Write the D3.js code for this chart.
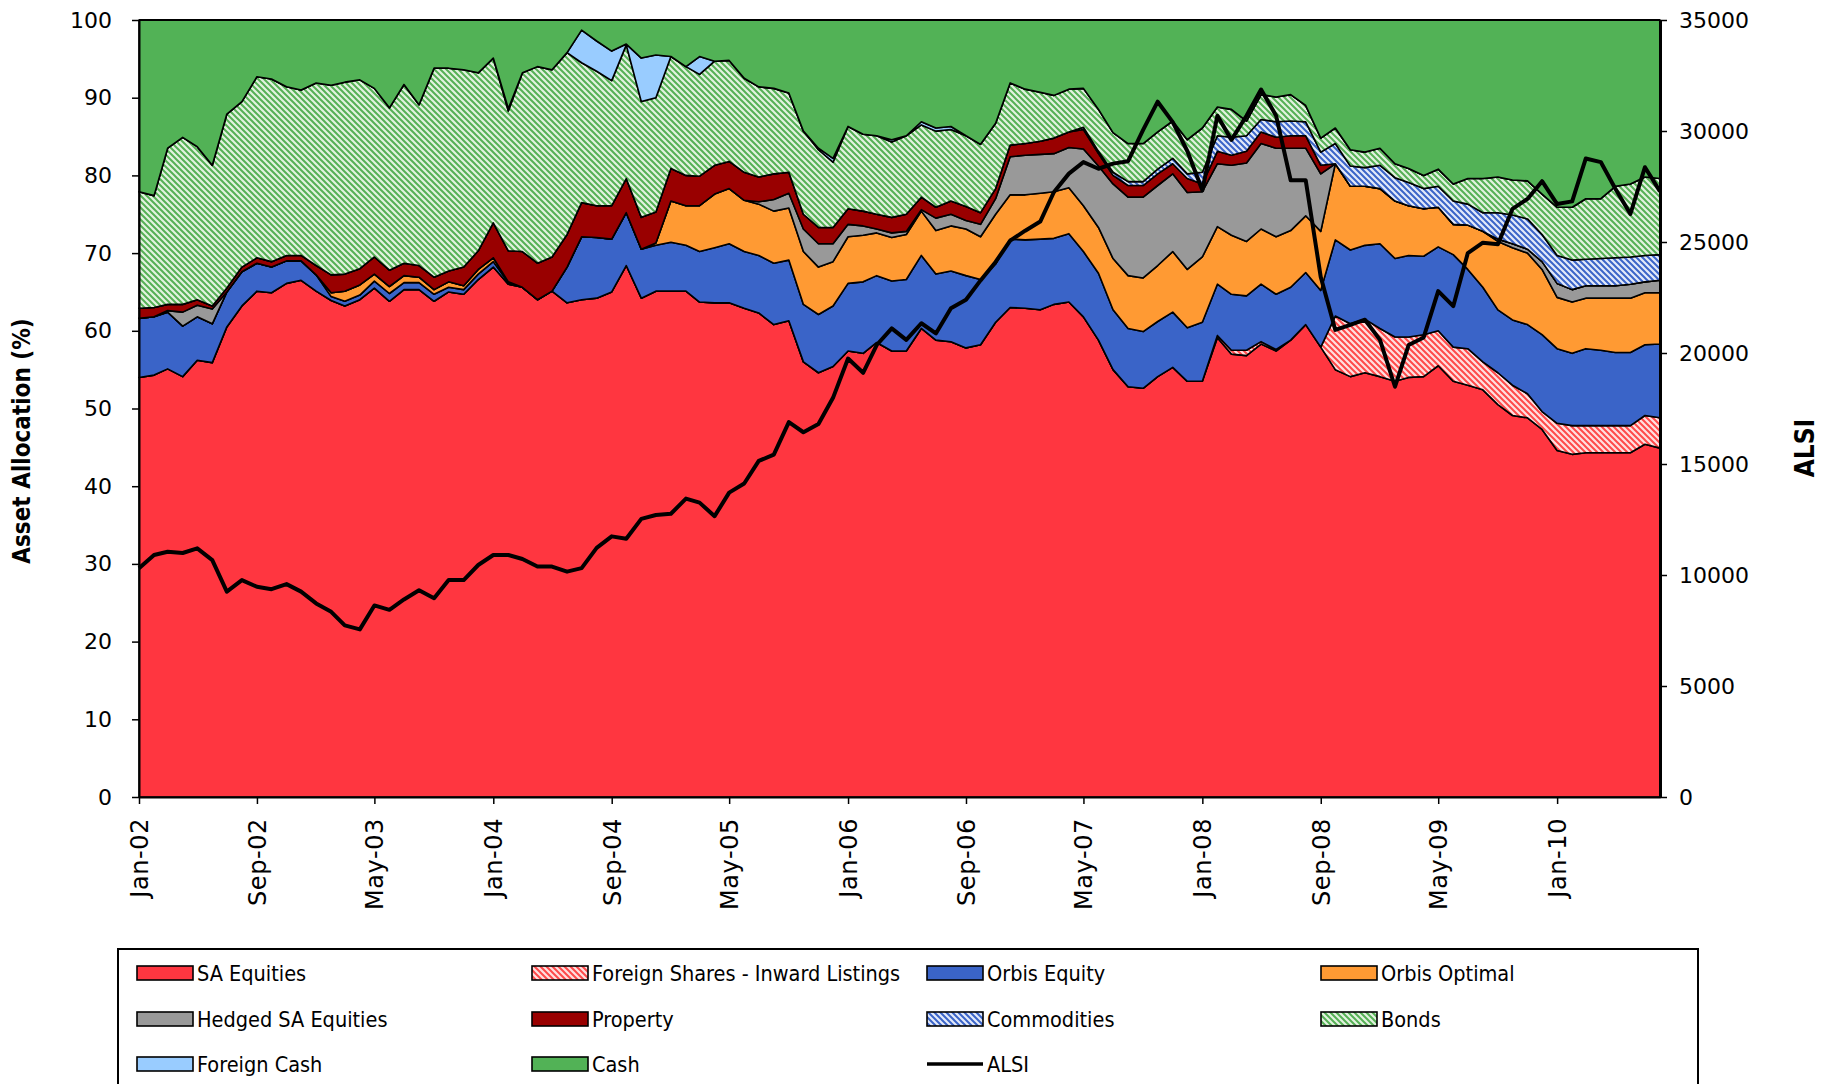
<!DOCTYPE html>
<html>
<head>
<meta charset="utf-8">
<script src="https://cdn.jsdelivr.net/npm/d3@7"></script>
<style>
  body { margin: 0; background: #fff; }
  svg { display: block; }
</style>
</head>
<body>
<div id="chart"></div>
<script>
// x axis tick labels (every 8 months)
const tickLabels = ['Jan-02', 'Sep-02', 'May-03', 'Jan-04', 'Sep-04', 'May-05', 'Jan-06',
  'Sep-06', 'May-07', 'Jan-08', 'Sep-08', 'May-09', 'Jan-10'];

// monthly, Jan-02 .. Aug-10 (104 months), % of fund
const saEquities = [
  54.0, 54.3, 55.1, 54.1, 56.2, 55.9, 60.5, 63.2, 65.1, 64.9, 66.1, 66.5, 65.1, 63.9, 63.2, 64.0,
  65.5, 63.8, 65.3, 65.3, 63.8, 65.0, 64.7, 66.6, 68.2, 66.0, 65.6, 64.0, 65.1, 63.6, 64.0, 64.2,
  65.0, 68.4, 64.2, 65.1, 65.1, 65.1, 63.7, 63.6, 63.6, 62.9, 62.3, 60.8, 61.3, 56.0, 54.6, 55.4,
  57.4, 57.1, 58.5, 57.4, 57.4, 60.3, 58.8, 58.6, 57.8, 58.2, 61.1, 63.0, 62.9, 62.7, 63.4, 63.7,
  61.8, 58.8, 55.0, 52.8, 52.6, 54.1, 55.3, 53.5, 53.5, 59.1, 57.0, 56.8, 58.3, 57.4, 58.8, 60.8,
  57.9, 55.0, 54.1, 54.6, 54.1, 53.5, 54.0, 54.1, 55.5, 53.5, 53.0, 52.4, 50.5, 49.1, 48.8, 47.3,
  44.6, 44.1, 44.3, 44.3, 44.3, 44.3, 45.4, 44.9];
const foreignShares = [
  0, 0, 0, 0, 0, 0, 0, 0, 0, 0, 0, 0, 0, 0, 0, 0,
  0, 0, 0, 0, 0, 0, 0, 0, 0, 0, 0, 0, 0, 0, 0, 0,
  0, 0, 0, 0, 0, 0, 0, 0, 0, 0, 0, 0, 0, 0, 0, 0,
  0, 0, 0, 0, 0, 0, 0, 0, 0, 0, 0, 0, 0, 0, 0, 0,
  0, 0, 0, 0, 0, 0, 0, 0, 0, 0.3, 0.5, 0.7, 0.3, 0.2, 0, 0,
  0, 6.9, 6.8, 6.9, 6.2, 5.7, 5.2, 5.4, 4.5, 4.4, 4.7, 3.6, 4.1, 3.9, 3.1, 2.3,
  3.5, 3.7, 3.5, 3.5, 3.5, 3.5, 3.7, 3.9];
const orbisEquity = [
  7.6, 7.5, 7.3, 6.5, 5.6, 5.0, 4.5, 4.4, 3.6, 3.3, 2.9, 2.5, 2.1, 0.5, 0.6, 0.6,
  0.9, 1.0, 0.9, 0.9, 0.9, 0.6, 0.6, 0.7, 0.7, 0.2, 0, 0, 0, 4.6, 8.1, 7.8,
  6.8, 6.8, 6.3, 5.9, 6.3, 5.9, 6.5, 7.1, 7.6, 7.3, 7.4, 7.9, 7.8, 7.4, 7.5, 7.8,
  8.7, 9.2, 8.6, 9.0, 9.2, 9.4, 8.5, 9.1, 9.3, 8.4, 7.5, 8.8, 8.8, 9.1, 8.5, 8.8,
  8.4, 8.6, 7.7, 7.5, 7.3, 7.1, 7.1, 6.9, 7.6, 6.6, 7.2, 7.0, 7.4, 7.1, 6.8, 6.7,
  7.3, 9.8, 9.5, 9.5, 10.9, 10.1, 10.5, 10.1, 10.8, 11.9, 10.2, 9.6, 8.1, 8.4, 8.9, 9.9,
  9.6, 9.3, 9.9, 9.7, 9.4, 9.4, 9.1, 9.5];
const orbisOptimal = [
  0, 0, 0, 0, 0, 0, 0, 0, 0, 0, 0, 0, 0, 0.5, 1.3, 1.3,
  0.9, 0.9, 0.9, 0.7, 0.6, 0.7, 0.5, 0.6, 0.5, 0.1, 0, 0, 0, 0, 0, 0,
  0, 0, 0, 0.3, 5.3, 5.1, 5.9, 6.9, 7.1, 6.6, 6.6, 6.7, 6.7, 6.8, 6.1, 5.7,
  6.0, 6.0, 5.5, 5.6, 5.8, 5.7, 5.6, 5.8, 6.0, 5.5, 6.4, 5.7, 5.8, 5.9, 6.0, 5.9,
  5.9, 5.9, 6.6, 6.8, 6.9, 7.2, 7.8, 7.5, 8.4, 7.4, 7.6, 7.0, 7.1, 7.4, 7.3, 7.3,
  7.6, 9.8, 8.2, 7.6, 7.1, 7.4, 6.4, 6.1, 5.1, 3.9, 5.7, 7.2, 8.8, 9.3, 9.2, 8.4,
  6.6, 6.6, 6.5, 6.7, 7.0, 7.0, 6.7, 6.6];
const hedgedEquities = [
  0, 0, 0.2, 1.8, 1.5, 1.9, 0, 0, 0, 0, 0, 0, 0, 0, 0, 0,
  0, 0, 0, 0, 0, 0, 0, 0, 0, 0, 0, 0, 0, 0, 0, 0,
  0, 0, 0, 0, 0, 0, 0, 0, 0, 0, 0.3, 1.5, 1.9, 2.9, 3.0, 2.3,
  1.6, 1.2, 0.5, 0.6, 0.4, 0.2, 1.6, 1.5, 1.1, 1.6, 2.0, 4.9, 5.1, 5.0, 4.9, 5.2,
  7.3, 7.9, 9.6, 10.1, 10.4, 10.3, 10.0, 9.9, 8.4, 8.1, 9.0, 10.1, 11.0, 11.4, 10.6, 8.7,
  7.4, 0, 0, 0, 0, 0, 0, 0, 0, 0, 0, 0, 0.3, 0.5, 0.5, 1.0,
  1.8, 1.6, 1.6, 1.6, 1.6, 1.8, 1.4, 1.6];
const property = [
  1.3, 1.2, 0.8, 1.0, 0.7, 0.4, 0.5, 0.6, 0.7, 0.7, 0.7, 0.7, 1.2, 2.3, 2.2, 2.1,
  2.2, 2.1, 1.6, 1.5, 1.6, 1.4, 2.4, 2.4, 4.5, 4.0, 4.6, 4.7, 4.4, 4.2, 4.4, 4.1,
  4.3, 4.4, 4.1, 4.0, 4.2, 3.9, 3.8, 3.7, 3.5, 3.6, 3.2, 3.3, 2.7, 1.9, 2.1, 2.1,
  2.0, 1.9, 1.9, 2.0, 2.2, 1.6, 1.4, 1.7, 1.8, 1.5, 1.3, 1.5, 1.5, 1.7, 2.0, 2.0,
  2.5, 1.6, 1.1, 1.5, 1.5, 1.5, 1.3, 1.8, 1.0, 1.6, 1.3, 1.5, 1.5, 1.4, 1.6, 1.6,
  1.1, 0, 0, 0, 0, 0, 0, 0, 0, 0, 0, 0, 0, 0, 0, 0,
  0, 0, 0, 0, 0, 0, 0, 0];
const commodities = [
  0, 0, 0, 0, 0, 0, 0, 0, 0, 0, 0, 0, 0, 0, 0, 0,
  0, 0, 0, 0, 0, 0, 0, 0, 0, 0, 0, 0, 0, 0, 0, 0,
  0, 0, 0, 0, 0, 0, 0, 0, 0, 0, 0, 0, 0, 0, 0, 0,
  0, 0, 0, 0, 0, 0, 0, 0, 0, 0, 0, 0, 0, 0, 0, 0,
  0.3, 0.3, 0.4, 0.5, 0.5, 0.6, 0.7, 0.6, 1.5, 2.0, 2.3, 2.0, 1.6, 2.0, 1.9, 1.8,
  1.7, 2.6, 2.6, 2.4, 3.0, 3.0, 3.0, 2.6, 2.7, 3.0, 2.7, 2.4, 3.4, 3.7, 3.9, 3.5,
  3.6, 3.8, 3.4, 3.5, 3.6, 3.5, 3.4, 3.3];
const bonds = [
  15.0, 14.4, 20.1, 21.5, 19.7, 18.1, 22.4, 21.3, 23.3, 23.5, 21.7, 21.3, 23.5, 24.4, 24.7, 24.3,
  21.7, 20.9, 23.0, 20.7, 26.9, 26.1, 25.4, 22.9, 21.2, 18.0, 23.0, 25.3, 24.1, 23.4, 18.0, 17.3,
  16.1, 17.2, 14.9, 14.7, 14.4, 14.0, 13.1, 13.4, 13.0, 12.1, 11.6, 11.0, 10.2, 10.7, 10.0, 8.4,
  10.6, 9.9, 10.1, 9.7, 10.1, 9.3, 9.8, 9.2, 9.1, 8.8, 8.4, 8.0, 7.0, 6.3, 5.5, 5.5,
  5.0, 5.4, 5.1, 4.9, 4.9, 4.8, 4.8, 4.4, 5.7, 3.7, 3.6, 1.9, 3.2, 3.2, 3.4, 2.1,
  1.8, 2.0, 2.1, 2.0, 2.2, 1.8, 1.8, 1.7, 2.2, 2.2, 3.3, 4.4, 4.6, 4.5, 4.9, 5.2,
  6.2, 6.8, 7.8, 7.7, 9.2, 9.4, 10.1, 9.8];
const foreignCash = [
  0, 0, 0, 0, 0, 0, 0, 0, 0, 0, 0, 0, 0, 0, 0, 0,
  0, 0, 0, 0, 0, 0, 0, 0, 0, 0.3, 0, 0, 0, 0, 4.2, 3.9,
  3.8, 0.1, 5.6, 5.5, 0, 0, 2.3, 0, 0, 0, 0, 0, 0, 0, 0.2, 0.5,
  0, 0, 0, 0.3, 0, 0.4, 0.4, 0.4, 0, 0, 0, 0, 0, 0, 0, 0,
  0, 0, 0, 0, 0, 0, 0, 0, 0, 0, 0, 0, 0, 0, 0, 0,
  0, 0, 0, 0, 0, 0, 0, 0, 0, 0, 0, 0, 0, 0, 0, 0,
  0, 0, 0, 0, 0, 0, 0, 0];
const cash = [
  22.1, 22.6, 16.5, 15.1, 16.3, 18.7, 12.1, 10.5, 7.3, 7.6, 8.6, 9.0, 8.1, 8.4, 8.0, 7.7,
  8.8, 11.3, 8.3, 10.9, 6.2, 6.2, 6.4, 6.8, 4.9, 11.4, 6.8, 6.0, 6.4, 4.2, 1.3, 2.7,
  4.0, 3.1, 4.9, 4.5, 4.7, 6.0, 4.7, 5.3, 5.2, 7.5, 8.6, 8.8, 9.4, 14.3, 16.5, 17.8,
  13.7, 14.7, 14.9, 15.4, 14.9, 13.1, 13.9, 13.7, 14.9, 16.0, 13.3, 8.1, 8.9, 9.3, 9.7, 8.9,
  8.8, 11.5, 14.5, 15.9, 15.9, 14.4, 13.0, 15.4, 13.9, 11.2, 11.5, 13.0, 9.6, 9.9, 9.6, 11.0,
  15.2, 13.9, 16.7, 17.0, 16.5, 18.5, 19.1, 20.0, 19.2, 21.1, 20.4, 20.4, 20.2, 20.6, 20.7, 22.4,
  24.1, 24.1, 23.0, 23.0, 21.4, 21.1, 20.2, 20.4];
// JSE All Share index, right axis
const alsi = [
  10300, 10900, 11050, 10990, 11200, 10670, 9250, 9770, 9470, 9360, 9590, 9250, 8720, 8340, 7730, 7550,
  8630, 8430, 8900, 9310, 8950, 9770, 9770, 10450, 10900, 10900, 10720, 10380, 10380, 10150, 10310, 11220,
  11740, 11630, 12530, 12700, 12760, 13440, 13260, 12650, 13710, 14120, 15140, 15420, 16890, 16430, 16800, 17980,
  19750, 19110, 20360, 21110, 20590, 21340, 20880, 22020, 22400, 23270, 24100, 25060, 25510, 25920, 27240, 28080,
  28600, 28300, 28530, 28640, 30050, 31320, 30400, 29100, 27330, 30690, 29600, 30690, 31870, 30690, 27780, 27780,
  23420, 21040, 21270, 21500, 20590, 18480, 20360, 20700, 22790, 22110, 24500, 24970, 24900, 26490, 26940, 27740,
  26710, 26830, 28760, 28600, 27400, 26260, 28370, 27280];

const months = d3.timeMonth.range(new Date(2002, 0, 1), new Date(2010, 8, 1));

// stack order bottom -> top
const seriesInfo = [
  {key: 'sa', name: 'SA Equities', values: saEquities, fill: '#ff3640'},
  {key: 'fs', name: 'Foreign Shares - Inward Listings', values: foreignShares, fill: 'url(#hatchRed)'},
  {key: 'oe', name: 'Orbis Equity', values: orbisEquity, fill: '#3a64c8'},
  {key: 'oo', name: 'Orbis Optimal', values: orbisOptimal, fill: '#ff9a33'},
  {key: 'he', name: 'Hedged SA Equities', values: hedgedEquities, fill: '#999999'},
  {key: 'pr', name: 'Property', values: property, fill: '#990000'},
  {key: 'co', name: 'Commodities', values: commodities, fill: 'url(#hatchBlue)'},
  {key: 'bo', name: 'Bonds', values: bonds, fill: 'url(#hatchGreen)'},
  {key: 'fc', name: 'Foreign Cash', values: foreignCash, fill: '#99ccff'},
  {key: 'ca', name: 'Cash', values: cash, fill: '#52b256'}
];

const rows = months.map((m, i) => {
  const r = {date: m, alsi: alsi[i]};
  seriesInfo.forEach(s => { r[s.key] = s.values[i]; });
  return r;
});

const W = 1832, H = 1084;
const margin = {top: 20, right: 172, bottom: 287, left: 139};
const width = W - margin.left - margin.right;
const height = H - margin.top - margin.bottom;

const svg = d3.select('#chart')
  .append('svg')
  .attr('width', W)
  .attr('height', H);

const defs = svg.append('defs');
function hatch(id, bg, fg) {
  const p = defs.append('pattern')
    .attr('id', id)
    .attr('patternUnits', 'userSpaceOnUse')
    .attr('width', 6)
    .attr('height', 6);
  p.append('rect').attr('width', 6).attr('height', 6).attr('fill', bg);
  p.append('path')
    .attr('d', 'M-1,-1 L7,7 M-1,5 L1,7 M5,-1 L7,1')
    .attr('stroke', fg)
    .attr('stroke-width', 2);
}
hatch('hatchRed', '#ffe0e0', '#ff4a4a');
hatch('hatchBlue', '#e2e9fa', '#3a64c8');
hatch('hatchGreen', '#e2f2df', '#55b055');

const g = svg.append('g')
  .attr('transform', `translate(${margin.left},${margin.top})`);

const x = d3.scaleTime()
  .domain([months[0], months[months.length - 1]])
  .range([0, width]);
const y = d3.scaleLinear().domain([0, 100]).range([height, 0]);
const y2 = d3.scaleLinear().domain([0, 35000]).range([height, 0]);

const stacked = d3.stack().keys(seriesInfo.map(s => s.key))(rows);

const area = d3.area()
  .x(d => x(d.data.date))
  .y0(d => y(d[0]))
  .y1(d => y(d[1]));

g.selectAll('.layer')
  .data(stacked)
  .enter()
  .append('path')
  .attr('class', 'layer')
  .attr('d', area)
  .attr('fill', (d, i) => seriesInfo[i].fill)
  .attr('stroke', '#000')
  .attr('stroke-width', 1.6)
  .attr('stroke-linejoin', 'round');

const alsiLine = d3.line()
  .x(d => x(d.date))
  .y(d => y2(d.alsi));

g.append('path')
  .datum(rows)
  .attr('fill', 'none')
  .attr('stroke', '#000')
  .attr('stroke-width', 4)
  .attr('stroke-linejoin', 'round')
  .attr('d', alsiLine);

// frame top
g.append('line')
  .attr('x1', 0).attr('x2', width)
  .attr('y1', 0).attr('y2', 0)
  .attr('stroke', '#000').attr('stroke-width', 2);

const tickFont = '"DejaVu Sans", Verdana, sans-serif';
const parseTick = d3.timeParse('%b-%y');

const yAxis = g.append('g')
  .call(d3.axisLeft(y).tickValues(d3.range(0, 101, 10)).tickSize(7).tickSizeOuter(0).tickPadding(20));
const y2Axis = g.append('g')
  .attr('transform', `translate(${width},0)`)
  .call(d3.axisRight(y2).tickValues(d3.range(0, 35001, 5000)).tickFormat(d3.format('d'))
    .tickSize(7).tickSizeOuter(0).tickPadding(12));
const xAxis = g.append('g')
  .attr('transform', `translate(0,${height})`)
  .call(d3.axisBottom(x)
    .tickValues(tickLabels.map(parseTick))
    .tickFormat((d, i) => tickLabels[i])
    .tickSize(7).tickSizeOuter(0));

[yAxis, y2Axis, xAxis].forEach(a => {
  a.selectAll('.tick text')
    .attr('font-family', tickFont)
    .attr('font-size', 22)
    .attr('fill', '#000');
  a.selectAll('.tick line').attr('stroke', '#000').attr('stroke-width', 1.5);
  a.select('.domain').attr('stroke', '#000').attr('stroke-width', 2);
});
y2Axis.select('.domain').attr('stroke-width', 3);

xAxis.selectAll('.tick text')
  .attr('transform', 'rotate(-90)')
  .attr('text-anchor', 'end')
  .attr('x', -21)
  .attr('y', 0)
  .attr('dy', '0.35em')
  .attr('font-size', 24)
  .attr('letter-spacing', 0.6);

const titleFont = '"Liberation Sans Narrow", "DejaVu Sans Condensed", sans-serif';
svg.append('text')
  .attr('transform', 'translate(30,441) rotate(-90)')
  .attr('text-anchor', 'middle')
  .attr('font-family', titleFont)
  .attr('font-weight', 'bold')
  .attr('font-size', 24)
  .text('Asset Allocation  (%)');

svg.append('text')
  .attr('transform', 'translate(1814,448) rotate(-90)')
  .attr('text-anchor', 'middle')
  .attr('font-family', titleFont)
  .attr('font-weight', 'bold')
  .attr('font-size', 26)
  .text('ALSI');

// legend
const legend = svg.append('g');
legend.append('rect')
  .attr('x', 118).attr('y', 949)
  .attr('width', 1580).attr('height', 160)
  .attr('fill', '#fff')
  .attr('stroke', '#000')
  .attr('stroke-width', 2);

const legendItems = seriesInfo.map(s => ({name: s.name, fill: s.fill}))
  .concat([{name: 'ALSI', line: true}]);
const colX = [137, 532, 927, 1321];
const rowY = [973, 1019, 1064];

legendItems.forEach((it, i) => {
  const lx = colX[i % 4];
  const ly = rowY[Math.floor(i / 4)];
  if (it.line) {
    legend.append('line')
      .attr('x1', lx).attr('x2', lx + 56)
      .attr('y1', ly).attr('y2', ly)
      .attr('stroke', '#000').attr('stroke-width', 3.5);
  } else {
    legend.append('rect')
      .attr('x', lx).attr('y', ly - 7)
      .attr('width', 56).attr('height', 14)
      .attr('fill', it.fill)
      .attr('stroke', '#000')
      .attr('stroke-width', 1.6);
  }
  legend.append('text')
    .attr('x', lx + 60)
    .attr('y', ly)
    .attr('dy', '0.35em')
    .attr('font-family', titleFont)
    .attr('font-size', 21.5)
    .text(it.name);
});
</script>
</body>
</html>
